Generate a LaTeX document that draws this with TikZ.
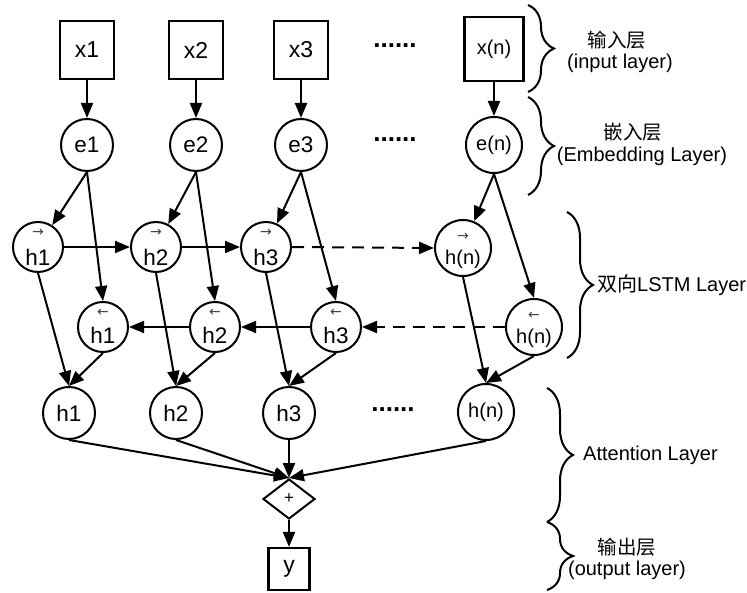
\documentclass[tikz,border=0pt]{standalone}
\usepackage{fontspec}
\setmainfont{Liberation Sans}
\newfontfamily\cjk{Noto Sans CJK SC}
\newfontfamily\arrowfont{DejaVu Sans}
\usetikzlibrary{arrows.meta,shapes.geometric,decorations.pathreplacing}
% #1 arrow raise, #2 arrow glyph, #3 text lowering, #4 text
\newcommand\hlab[4]{\makebox[0pt]{\raisebox{#1}[0pt][0pt]{\arrowfont\fontsize{14}{14}\selectfont\color{black!75}#2}}\makebox[0pt]{\raisebox{-#3}[0pt][0pt]{#4}}}
\begin{document}
\begin{tikzpicture}[x=1pt,y=-1pt,
  box/.style={draw, rectangle, line width=2.2pt, inner sep=0pt, minimum width=54pt, minimum height=58pt, font=\fontsize{23}{23}\selectfont},
  circ/.style={draw, circle, line width=2pt, inner sep=0pt, minimum size=52pt, font=\fontsize{22.5}{22.5}\selectfont},
  ncirc/.style={circ, minimum size=56pt, font=\fontsize{20}{20}\selectfont},
  arr/.style={-{Triangle[length=15pt,width=12pt]}, line width=2pt},
  dsh/.style={arr, dash pattern=on 12pt off 8pt},
  brc/.style={decorate, decoration={brace, amplitude=26pt}, line width=2pt},
  lbl/.style={font=\fontsize{20}{20}\selectfont},
  cn/.style={font=\cjk\fontsize{19.5}{19.5}\selectfont},
  dots/.style={font=\bfseries\fontsize{26}{26}\selectfont},
  plusd/.style={draw, diamond, line width=2pt, inner sep=0pt, minimum width=52pt, minimum height=40pt, font=\fontsize{17}{17}\selectfont}
]
\useasboundingbox (0,0) rectangle (747,593);

% input layer
\node[box] (x1) at (87,50) {x1};
\node[box] (x2) at (196,50) {x2};
\node[box] (x3) at (301,50) {x3};
\node[box, minimum width=59pt, minimum height=64pt, font=\fontsize{20}{20}\selectfont] (xn) at (494,49) {x(n)};
\node[dots] (d1) at (395,46) {......};

% embedding layer
\node[circ] (e1) at (87,145) {e1};
\node[circ] (e2) at (196,145) {e2};
\node[circ] (e3) at (301,145) {e3};
\node[ncirc] (en) at (494,145) {e(n)};
\node[dots] (d2) at (395,140) {......};

% forward LSTM
\node[circ, minimum size=50pt] (h1f) at (38,247) {\hlab{10pt}{→}{18.5pt}{h1}};
\node[circ, minimum size=50pt] (h2f) at (156,247) {\hlab{10pt}{→}{18.5pt}{h2}};
\node[circ, minimum size=50pt] (h3f) at (266,247) {\hlab{10pt}{→}{18.5pt}{h3}};
\node[ncirc] (hnf) at (463,248) {\hlab{7pt}{→}{17pt}{h(n)}};

% backward LSTM
\node[circ, minimum size=50pt] (h1b) at (103,327) {\hlab{10pt}{←}{16.5pt}{h1}};
\node[circ, minimum size=50pt] (h2b) at (215,327) {\hlab{10pt}{←}{16.5pt}{h2}};
\node[circ, minimum size=50pt] (h3b) at (336,327) {\hlab{10pt}{←}{16.5pt}{h3}};
\node[ncirc] (hnb) at (534,327) {\hlab{7pt}{←}{17pt}{h(n)}};

% combined hidden
\node[circ] (h1) at (69,413) {h1};
\node[circ] (h2) at (176,413) {h2};
\node[circ] (h3) at (289,413) {h3};
\node[ncirc] (hn) at (486,412) {h(n)};
\node[dots] (d3) at (393,410) {......};

% attention and output
\node[plusd] (plus) at (289,499) {+};
\node[box, minimum width=41pt, minimum height=42pt] (y) at (289,569) {y};

% connectors
\foreach \i in {1,2,3,n} {
  \draw[arr] (x\i.south) -- (e\i.north);
  \draw[arr] (e\i.south) -- (h\i f);
  \draw[arr] (e\i.south) -- (h\i b.north);
  \draw[arr] (h\i f.south) -- (h\i.north);
  \draw[arr] (h\i b.south) -- (h\i.north);
  \draw[arr] (h\i.south) -- (plus.north);
}
\draw[arr] (h1f.east) -- (h2f.west);
\draw[arr] (h2f.east) -- (h3f.west);
\draw[dsh] (h3f.east) -- (hnf.west);
\draw[dsh] (hnb.west) -- (h3b.east);
\draw[arr] (h3b.west) -- (h2b.east);
\draw[arr] (h2b.west) -- (h1b.east);
\draw[arr] (plus.south) -- (y.north);

% braces
\coordinate (b1t) at (528,5);   \coordinate (b1b) at (528,92);
\coordinate (b2t) at (528,97);  \coordinate (b2b) at (528,195);
\coordinate (b3t) at (567,212); \coordinate (b3b) at (567,358);
\coordinate (b4t) at (547,388); \coordinate (b4b) at (547,522);
\coordinate (b5t) at (547,522); \coordinate (b5b) at (547,590);
\draw[brc] (b1t) -- (b1b);
\draw[brc] (b2t) -- (b2b);
\draw[brc] (b3t) -- (b3b);
\draw[brc] (b4t) -- (b4b);
\draw[brc] (b5t) -- (b5b);

% layer labels
\node[cn] (t1a) at (617,40) {输入层};
\node[lbl] (t1b) at (620,63) {(input layer)};
\node[cn] (t2a) at (633,132) {嵌入层};
\node[lbl] (t2b) at (642,156) {(Embedding Layer)};
\node[lbl, anchor=west, inner sep=0pt] (t3) at (597,285) {{\cjk 双向}LSTM Layer};
\node[lbl, anchor=west, inner sep=0pt] (t4) at (583,455) {Attention Layer};
\node[cn] (t5a) at (627,547) {输出层};
\node[lbl] (t5b) at (627,570) {(output layer)};
\end{tikzpicture}
\end{document}
